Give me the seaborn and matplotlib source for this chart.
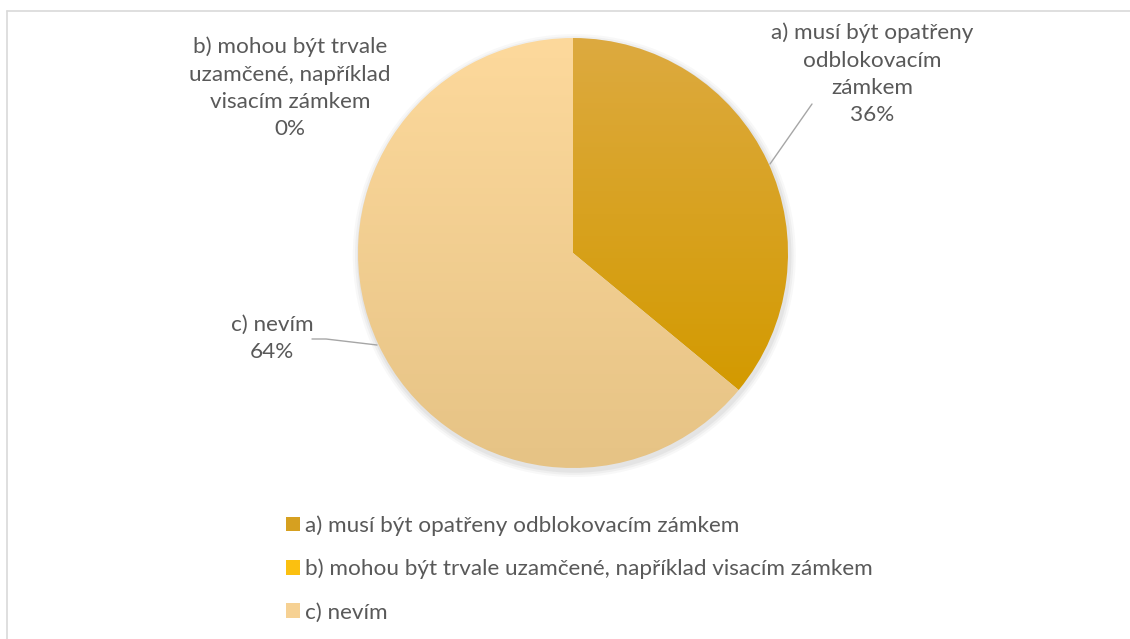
"""Pie chart: answers about locking of the doors (a/b/c)."""
import numpy as np
import matplotlib
matplotlib.use("Agg")
import matplotlib.pyplot as plt
from matplotlib.patches import Patch, Circle
from matplotlib.colors import LinearSegmentedColormap
import seaborn as sns

categories = [
    "a) musí být opatřeny odblokovacím zámkem",
    "b) mohou být trvale uzamčené, například visacím zámkem",
    "c) nevím",
]
slice_labels = [
    "a) musí být opatřeny\nodblokovacím\nzámkem",
    "b) mohou být trvale\nuzamčené, například\nvisacím zámkem",
    "c) nevím",
]
values = [36, 0, 64]
# gradient top / bottom colours per slice
grad_top = ["#DDAA40", "#FFCB2E", "#FDD99C"]
grad_bottom = ["#D39A00", "#F0B400", "#E6C385"]
legend_colors = ["#D6A020", "#FBC010", "#F6D193"]

sns.set_theme(style="white")
plt.rcParams["font.family"] = ["Lato", "DejaVu Sans"]
TXT = "#595959"
FS = 16.2

W, H = 1130, 639
fig = plt.figure(figsize=(W / 100, H / 100), dpi=100)
fig.patch.set_facecolor("white")

# pie axes: centre (573, 253) px, radius 215 px, limits +-L
cx, cy, r = 573, 253, 215
L = 1.1
ax = fig.add_axes([(cx - L * r) / W, (H - cy - L * r) / H, 2 * L * r / W, 2 * L * r / H])

# soft shadow
for k, a in enumerate([0.05, 0.07, 0.09]):
    ax.add_patch(Circle((0.006, -0.012), 1.0 + 0.01 * (3 - k), color="#7f7f7f",
                        alpha=a, lw=0, zorder=0))

wedges, _ = ax.pie(values, startangle=90, counterclock=False, radius=1.0,
                   colors=legend_colors, wedgeprops=dict(lw=0))

for w, top, bot in zip(wedges, grad_top, grad_bottom):
    if w.theta2 - w.theta1 == 0:
        continue
    cmap = LinearSegmentedColormap.from_list("g", [bot, top])
    grad = np.linspace(0, 1, 256).reshape(-1, 1)
    bb = w.get_path().get_extents()
    im = ax.imshow(grad, cmap=cmap, origin="lower", aspect="auto",
                   extent=[-1, 1, max(bb.y0, -1), 1], zorder=2)
    im.set_clip_path(w)
    w.set_facecolor("none")
ax.set_xlim(-L, L)
ax.set_ylim(-L, L)
ax.set_aspect("equal")
ax.axis("off")


def px(x, y):
    return (x - cx) / r, (cy - y) / r


# data labels
pcts = [f"{v}%" for v in values]
pos = [(872, 74), (290, 88), (272, 338)]
for lab, p, (x, y) in zip(slice_labels, pcts, pos):
    ax.text(*px(x, y), f"{lab}\n{p}", ha="center", va="center", fontsize=FS,
            color=TXT, linespacing=1.45, clip_on=False)

# leader lines
ax.plot(*zip(px(770, 164), px(812, 104)), color="#A6A6A6", lw=1, clip_on=False)
ax.plot(*zip(px(312, 339), px(326, 339), px(377, 345)), color="#A6A6A6", lw=1,
        clip_on=False)

# legend
handles = [Patch(facecolor=c, edgecolor="none") for c in legend_colors]
fig.legend(handles, categories, loc="upper left",
           bbox_to_anchor=(277 / W, (H - 506) / H), frameon=False,
           fontsize=FS, labelcolor=TXT, handlelength=0.6, handleheight=0.6,
           handletextpad=0.25, labelspacing=1.03, borderaxespad=0)

# chart area border (left and top visible)
fig.add_artist(plt.Line2D([6.5 / W, 6.5 / W], [0, (H - 10.5) / H],
                          color="#D9D9D9", lw=1.2))
fig.add_artist(plt.Line2D([6.5 / W, 1], [(H - 10.5) / H, (H - 10.5) / H],
                          color="#D9D9D9", lw=1.2))

fig.savefig("out.png", dpi=100)
